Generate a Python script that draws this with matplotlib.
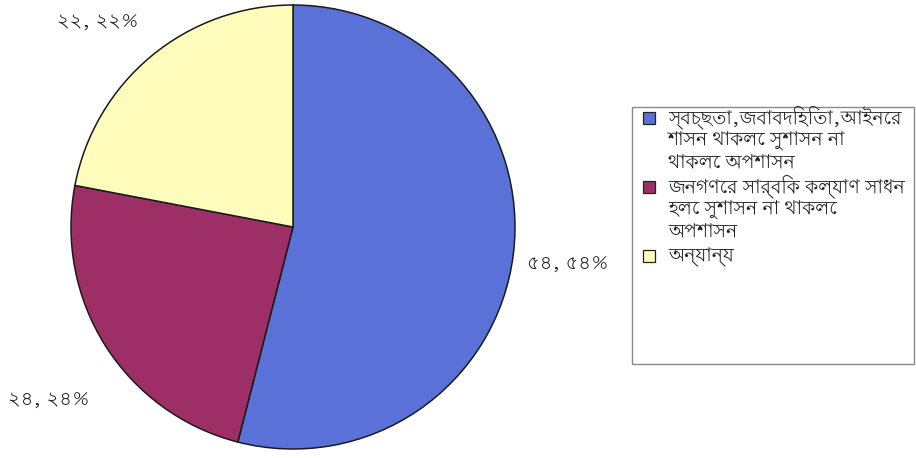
import matplotlib
matplotlib.use('Agg')
import matplotlib.pyplot as plt
from matplotlib import font_manager
from matplotlib.patches import Rectangle

values = [54, 24, 22]
value_labels = ['৫৪, ৫৪%', '২৪, ২৪%', '২২, ২২%']
names = [
  ['স্বচ্ছতা,জবাবদিহিতা,আইনের', 'শাসন থাকলে সুশাসন না', 'থাকলে অপশাসন'],
  ['জনগণের সার্বিক কল্যাণ সাধন', 'হলে সুশাসন না থাকলে', 'অপশাসন'],
  ['অন্যান্য'],
]
colors = ['#5a72d8', '#9e2f66', '#fffcbc']

# use a Bengali-capable family if one is installed, else fall back to DejaVu
families = [f.name for f in font_manager.fontManager.ttflist if 'bengali' in f.name.lower()]
plt.rcParams['font.family'] = families[:1] + ['DejaVu Sans']

W, H = 916, 458
fig = plt.figure(figsize=(W / 100, H / 100), dpi=100)
ax = fig.add_axes([71 / W, 9 / H, 444 / W, 444 / H])

wedges, _ = ax.pie(values, colors=colors, startangle=90, counterclock=False,
                   wedgeprops={'edgecolor': '#1a1a1a', 'linewidth': 1.1})
ax.set_xlim(-1, 1)
ax.set_ylim(-1, 1)
ax.set_aspect('equal')
ax.axis('off')

# value labels sit just outside the rim
label_pos = [(1.24, -0.17), (-1.10, -0.78), (-0.88, 0.92)]
for (x, y), t in zip(label_pos, value_labels):
  ax.text(x, y, t, ha='center', va='center', fontsize=14, fontweight='bold',
          style='italic', color='#222222', clip_on=False)

# legend drawn by hand so each swatch lines up with the first line of its entry
fig.patches.append(Rectangle((632 / W, 1 - 364 / H), 282 / W, 257 / H,
                             transform=fig.transFigure, fill=False,
                             edgecolor='#8a8a8a', linewidth=1))
line_h = 23
y = 123
for c, lines in zip(colors, names):
  fig.patches.append(Rectangle((643 / W, 1 - (y + 1) / H), 12 / W, 12 / H,
                               transform=fig.transFigure, facecolor=c,
                               edgecolor='#222222', linewidth=0.9))
  for ln in lines:
    fig.text(668 / W, 1 - y / H, ln, ha='left', va='baseline', fontsize=13.5,
             style='italic', color='#222222')
    y += line_h

fig.savefig('out.png', dpi=100)
